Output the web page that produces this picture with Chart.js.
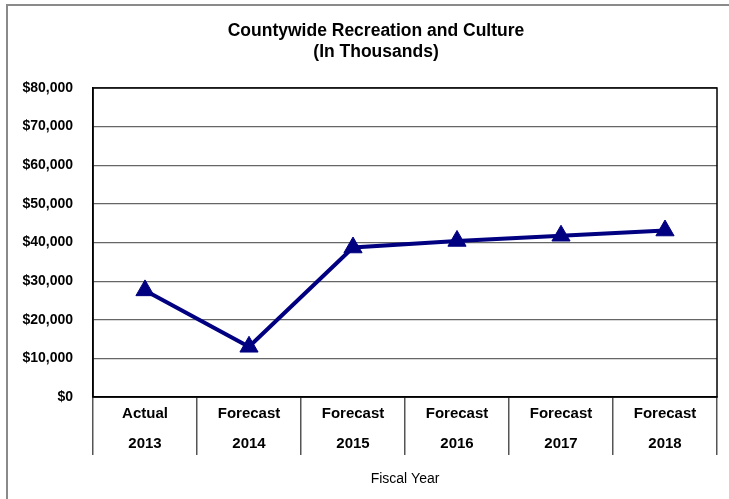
<!DOCTYPE html>
<html>
<head>
<meta charset="utf-8">
<script src="https://cdn.jsdelivr.net/npm/chart.js@4/dist/chart.umd.min.js"></script>
<style>
  html, body { margin: 0; padding: 0; background: #ffffff; overflow: hidden; }
  #wrap { position: relative; width: 729px; height: 499px; }
  #frame { position: absolute; left: 6px; top: 4px; width: 740px; height: 520px;
           border-left: 2px solid #8a8a8a; border-top: 2px solid #8a8a8a; box-sizing: border-box; }
  canvas { position: absolute; left: 0; top: 0; }
</style>
</head>
<body>
<div id="wrap">
  <div id="frame"></div>
  <canvas id="c" width="729" height="499"></canvas>
</div>
<script>
// Fiscal years: status on the first line, year on the second
const statuses = ["Actual", "Forecast", "Forecast", "Forecast", "Forecast", "Forecast"];
const years = ["2013", "2014", "2015", "2016", "2017", "2018"];
// Spending, in thousands of dollars
const spending = [27600, 13000, 38700, 40400, 41750, 43100];
// Value axis
const yMin = 0;
const yMax = 80000;
const yStep = 10000;

const categoryLabels = statuses.map((s, i) => [s, years[i]]);
const FONT = "'Liberation Sans', Arial, Helvetica, sans-serif";

// Black frame around the plot area
const plotFrame = {
  id: 'plotFrame',
  afterDatasetsDraw(chart) {
    const a = chart.chartArea;
    const ctx = chart.ctx;
    ctx.save();
    ctx.strokeStyle = '#000000';
    ctx.lineWidth = 1.5;
    ctx.strokeRect(a.left, a.top, a.right - a.left, a.bottom - a.top);
    ctx.restore();
  }
};

// Centre the title over the framed region rather than the full canvas
const titleInset = {
  id: 'titleInset',
  afterLayout(chart) {
    if (chart.titleBlock) chart.titleBlock.left = 35;
  }
};

new Chart(document.getElementById('c'), {
  type: 'line',
  data: {
    labels: categoryLabels,
    datasets: [{
      data: spending,
      borderColor: '#000080',
      backgroundColor: '#000080',
      borderWidth: 4,
      tension: 0,
      pointStyle: 'triangle',
      pointRadius: 10.5,
      pointBorderWidth: 1,
      pointBorderColor: '#000080',
      pointBackgroundColor: '#000080',
      fill: false
    }]
  },
  options: {
    responsive: false,
    animation: false,
    layout: { padding: { left: 0, right: 12, top: 0, bottom: 0 } },
    plugins: {
      legend: { display: false },
      tooltip: { enabled: false },
      title: {
        display: true,
        text: ['Countywide Recreation and Culture', '(In Thousands)'],
        color: '#000000',
        font: { family: FONT, size: 17.5, weight: 'bold', lineHeight: 21 / 17.5 },
        padding: { top: 21, bottom: 25 }
      }
    },
    scales: {
      x: {
        type: 'category',
        offset: true,
        afterFit(scale) { scale.height = 102; },
        grid: {
          display: true,
          offset: true,
          drawOnChartArea: false,
          drawTicks: true,
          tickLength: 58,
          color: '#555555',
          lineWidth: 1.5
        },
        border: { display: true, color: '#000000', width: 1.5 },
        ticks: {
          color: '#000000',
          padding: -56,
          maxRotation: 0,
          autoSkip: false,
          font: { family: FONT, size: 15, weight: 'bold', lineHeight: 2 }
        },
        title: {
          display: true,
          text: 'Fiscal Year',
          color: '#000000',
          font: { family: FONT, size: 14, weight: 'normal', lineHeight: 1.2 },
          padding: { top: 0, bottom: 11 }
        }
      },
      y: {
        min: yMin,
        max: yMax,
        afterFit(scale) { scale.width = 93; },
        ticks: {
          stepSize: yStep,
          color: '#000000',
          padding: 20,
          font: { family: FONT, size: 14, weight: 'bold' },
          callback: (v) => '$' + v.toLocaleString('en-US')
        },
        grid: {
          drawTicks: false,
          color: '#666666',
          lineWidth: 1.2
        },
        border: { display: true, color: '#000000', width: 1.5 }
      }
    }
  },
  plugins: [plotFrame, titleInset]
});
</script>
</body>
</html>
